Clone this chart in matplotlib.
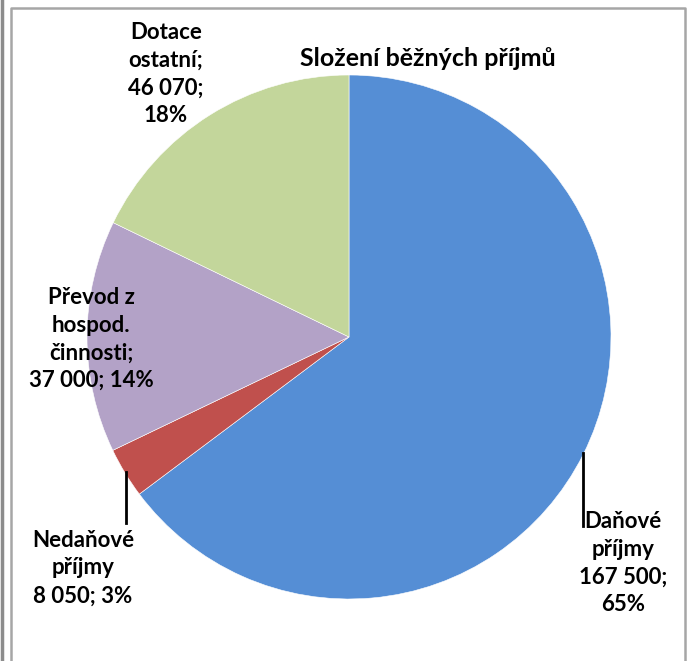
import matplotlib.pyplot as plt
from matplotlib.lines import Line2D

# data
labels = ['Daňové\npříjmy\n167 500;\n65%', 'Nedaňové\npříjmy\n8 050; 3%',
          'Převod z\nhospod.\nčinnosti;\n37 000; 14%', 'Dotace\nostatní;\n46 070;\n18%']
values = [167500, 8050, 37000, 46070]
colors = ['#558ED5', '#C0504D', '#B3A2C7', '#C3D69B']
title = 'Složení běžných příjmů'

W, H = 688, 661
fig = plt.figure(figsize=(W / 100, H / 100), dpi=100)
ax = fig.add_axes([0, 0, 1, 1])

font = dict(family=['Lato', 'DejaVu Sans'], fontweight='bold', fontsize=16)

# pie, centre (349, 337) in image pixels, radius 262
ax.pie(values, colors=colors, startangle=90, counterclock=False,
       center=(349, H - 337), radius=262, frame=True,
       wedgeprops=dict(edgecolor='white', linewidth=0.4))
ax.set_xlim(0, W)
ax.set_ylim(0, H)
ax.axis('off')

# data labels (image pixel positions, y flipped)
lab_pos = [(623, 563), (83, 568), (91, 339), (166, 74)]
for lab, (x, y) in zip(labels, lab_pos):
    ax.text(x, H - y, lab, ha='center', va='center', linespacing=1.4, **font)

# leader lines
ax.plot([583, 583], [H - 453, H - 526], color='black', lw=2)
ax.plot([125.5, 125.5], [H - 472, H - 523], color='black', lw=2)

ax.text(428, H - 58, title, ha='center', va='center',
        family=['Lato', 'DejaVu Sans'], fontweight='bold', fontsize=18)

# chart border
fig.add_artist(Line2D([1.5 / W, 1.5 / W], [0, 1], color='#8C8C8C', lw=2.5, transform=fig.transFigure))
fig.add_artist(Line2D([10.5 / W, 10.5 / W, 685 / W, 685 / W], [0, 1 - 8 / H, 1 - 8 / H, 0],
                      color='#A6A6A6', lw=1.8, transform=fig.transFigure))

plt.savefig('out.png', dpi=100)
